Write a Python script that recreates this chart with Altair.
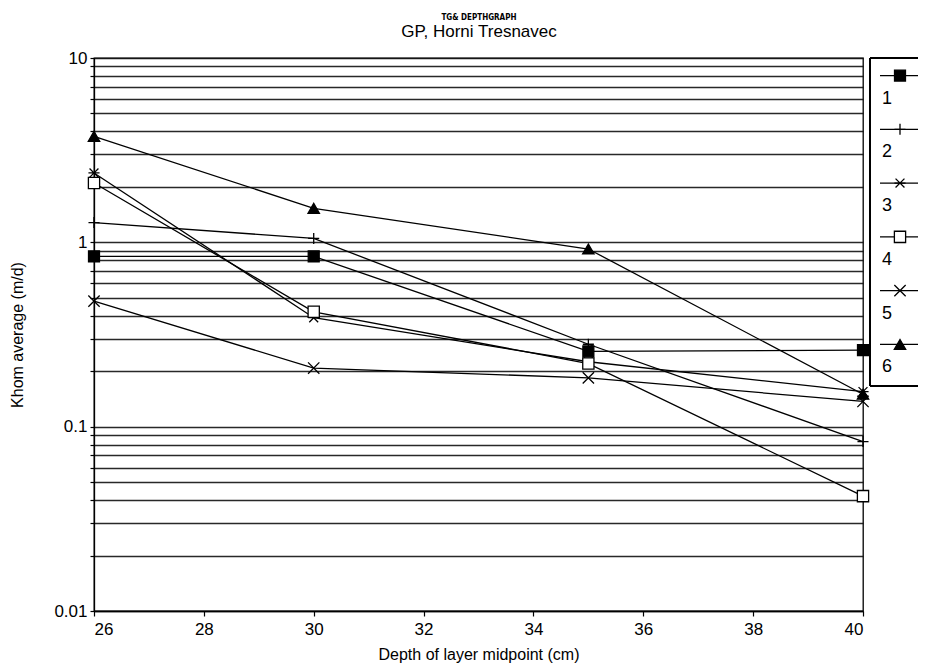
import altair as alt
import pandas as pd

depth = [26, 30, 35, 40]
series_names = ["1", "2", "3", "4", "5", "6"]
s1 = [0.84, 0.84, 0.256, 0.26]
s2 = [1.28, 1.05, 0.28, 0.083]
s3 = [2.38, 0.39, 0.225, 0.155]
s4 = [2.1, 0.42, 0.22, 0.042]
s5 = [0.48, 0.208, 0.184, 0.137]
s6 = [3.76, 1.53, 0.92, 0.15]
all_series = [s1, s2, s3, s4, s5, s6]

x_ticks = [26, 28, 30, 32, 34, 36, 38, 40]
y_grid = [0.01, 0.02, 0.03, 0.04, 0.05, 0.06, 0.07, 0.08, 0.09,
          0.1, 0.2, 0.3, 0.4, 0.5, 0.6, 0.7, 0.8, 0.9,
          1, 2, 3, 4, 5, 6, 7, 8, 9, 10]
y_labels = [0.01, 0.1, 1, 10]

rows = []
for name, vals in zip(series_names, all_series):
    for d, v in zip(depth, vals):
        rows.append({"series": name, "depth": d, "khom": v})
df = pd.DataFrame(rows)
leg_df = pd.DataFrame({"series": series_names})

FONT = "Liberation Sans"
shape_range = [
    "square",
    "M-1,0L1,0M0,-1L0,1",
    "M-1,0L1,0M-0.8,-0.8L0.8,0.8M-0.8,0.8L0.8,-0.8",
    "square",
    "M-1,-1L1,1M-1,1L1,-1",
    "triangle-up",
]
fill_range = ["black", "transparent", "transparent", "white", "transparent", "black"]
size_range = [120, 130, 130, 110, 110, 190]

shape_scale = alt.Scale(domain=series_names, range=shape_range)
fill_scale = alt.Scale(domain=series_names, range=fill_range)
size_scale = alt.Scale(domain=series_names, range=size_range)

label_expr = "(datum.value == 0.01 || datum.value == 0.1 || datum.value == 1 || datum.value == 10) ? datum.label : ''"

xenc = alt.X("depth:Q", scale=alt.Scale(domain=[26, 40], nice=False),
             axis=alt.Axis(values=x_ticks, format="d", title="Depth of layer midpoint (cm)", grid=False,
                           tickColor="black", domainColor="black", tickSize=5,
                           labelFontSize=17, titleFontSize=16, labelColor="black",
                           titleColor="black", titleFontWeight="normal", labelPadding=5,
                           titlePadding=9, labelFont=FONT, titleFont=FONT))
yenc = alt.Y("khom:Q", scale=alt.Scale(type="log", domain=[0.01, 10], nice=False),
             axis=alt.Axis(values=y_grid, labelExpr=label_expr, format="~g",
                           title="Khom average (m/d)", grid=True, gridColor="#111111",
                           gridWidth=1.3, gridOpacity=0.9, tickColor="black",
                           domainColor="black", tickSize=4, labelFontSize=17,
                           titleFontSize=16, labelColor="black", titleColor="black",
                           titleFontWeight="normal", labelPadding=3, titlePadding=28,
                           labelFont=FONT, titleFont=FONT))

lines = alt.Chart(df).mark_line(color="black", strokeWidth=1.3).encode(
    x=xenc, y=yenc, detail="series:N")
points = alt.Chart(df).mark_point(filled=False, stroke="black", strokeWidth=1.3, opacity=1).encode(
    x="depth:Q", y="khom:Q",
    shape=alt.Shape("series:N", scale=shape_scale, legend=None),
    fill=alt.Fill("series:N", scale=fill_scale, legend=None),
    size=alt.Size("series:N", scale=size_scale, legend=None),
)
main = alt.layer(lines, points).properties(width=769, height=553)

LEG_W = 48
LEG_H = 328
leg_y = alt.Y("series:N", sort=series_names, axis=None,
              scale=alt.Scale(type="band", paddingInner=0, paddingOuter=0.05))
leg_rule = alt.Chart(leg_df).mark_rule(color="black", strokeWidth=1.3, yOffset=-12).encode(
    x=alt.value(10), x2=alt.value(LEG_W), y=leg_y)
leg_pts = alt.Chart(leg_df).mark_point(filled=False, stroke="black", strokeWidth=1.3,
                                       opacity=1, yOffset=-12).encode(
    x=alt.value(30), y=leg_y,
    shape=alt.Shape("series:N", scale=shape_scale, legend=None),
    fill=alt.Fill("series:N", scale=fill_scale, legend=None),
    size=alt.Size("series:N", scale=size_scale, legend=None),
)
leg_txt = alt.Chart(leg_df).mark_text(align="left", baseline="middle", fontSize=18,
                                      font=FONT, color="black", dy=11).encode(
    x=alt.value(12), y=leg_y, text="series:N")
box_top = alt.Chart(leg_df).mark_rule(color="black", strokeWidth=1.3).encode(
    x=alt.value(0), x2=alt.value(LEG_W), y=alt.value(0))
box_bot = alt.Chart(leg_df).mark_rule(color="black", strokeWidth=1.3).encode(
    x=alt.value(0), x2=alt.value(LEG_W), y=alt.value(LEG_H))
box_left = alt.Chart(leg_df).mark_rule(color="black", strokeWidth=1.3).encode(
    x=alt.value(0), y=alt.value(0), y2=alt.value(LEG_H))
legend_panel = alt.layer(box_top, box_bot, box_left, leg_rule, leg_pts, leg_txt).properties(
    width=LEG_W, height=LEG_H, view=alt.ViewBackground(stroke=None))

chart = alt.hconcat(main, legend_panel, spacing=7, bounds="flush").properties(
    padding={"left": 1, "top": 6, "right": 0, "bottom": 0},
    title=alt.TitleParams(
        text="TG& DEPTHGRAPH", subtitle="GP, Horni Tresnavec",
        fontSize=8, fontWeight="bold", font="DejaVu Sans Condensed", color="black",
        subtitleFontSize=17, subtitleFont=FONT, subtitleColor="black",
        subtitlePadding=2, anchor="middle", dx=15, offset=8,
    ),
).configure_view(stroke="black", strokeWidth=1.3).configure_axis(
    domainWidth=1.3, tickWidth=1.2
)

chart.save("out.html", embed_options={"renderer": "svg", "actions": False})
